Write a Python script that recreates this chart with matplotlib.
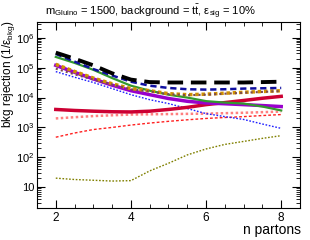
import matplotlib
matplotlib.use("Agg")
import matplotlib.pyplot as plt
from matplotlib.ticker import FixedLocator, MultipleLocator, LogLocator, NullFormatter, FixedFormatter

plt.rcParams['font.family'] = ['Liberation Sans', 'DejaVu Sans']
plt.rcParams['mathtext.fontset'] = 'custom'
plt.rcParams['mathtext.rm'] = 'Liberation Sans'
plt.rcParams['mathtext.it'] = 'Liberation Sans:italic'
plt.rcParams['mathtext.bf'] = 'Liberation Sans:bold'

n_partons = [2, 2.5, 3, 3.5, 4, 4.5, 5, 5.5, 6, 6.5, 7, 7.5, 8]

black_dashed = [3.2e5, 2.0e5, 1.2e5, 6.5e4, 4.0e4, 3.3e4, 3.2e4, 3.2e4, 3.2e4, 3.2e4, 3.2e4, 3.3e4, 3.4e4]
blue_dashed = [2.9e5, 1.6e5, 9.0e4, 5.5e4, 3.4e4, 2.5e4, 2.1e4, 1.9e4, 1.85e4, 1.9e4, 2.0e4, 2.05e4, 2.1e4]
green_solid = [2.3e5, 1.45e5, 8.5e4, 4.5e4, 2.5e4, 1.7e4, 1.25e4, 1.0e4, 7.6e3, 6.8e3, 6.3e3, 5.0e3, 3.7e3]
purple_solid = [1.2e5, 7.0e4, 4.2e4, 2.6e4, 1.7e4, 1.25e4, 9.3e3, 7.5e3, 6.6e3, 6.2e3, 5.8e3, 5.4e3, 5.0e3]
orange_dotted = [1.3e5, 7.5e4, 4.5e4, 2.9e4, 2.0e4, 1.7e4, 1.35e4, 1.25e4, 1.3e4, 1.4e4, 1.5e4, 1.6e4, 1.7e4]
brown_dotted = [9.3e4, 6.0e4, 4.0e4, 2.7e4, 1.9e4, 1.6e4, 1.3e4, 1.2e4, 1.25e4, 1.35e4, 1.45e4, 1.55e4, 1.65e4]
blue_dotted = [7.4e4, 4.8e4, 3.2e4, 2.0e4, 1.25e4, 8.5e3, 6.3e3, 4.3e3, 2.9e3, 2.3e3, 1.85e3, 1.3e3, 9.3e2]
red_solid = [4.0e3, 3.7e3, 3.5e3, 3.35e3, 3.3e3, 3.5e3, 4.0e3, 4.7e3, 5.8e3, 6.8e3, 8.0e3, 9.5e3, 1.1e4]
pink_dotted = [2.0e3, 2.2e3, 2.4e3, 2.55e3, 2.7e3, 2.75e3, 2.8e3, 2.85e3, 2.9e3, 3.0e3, 3.1e3, 3.25e3, 3.4e3]
red_dashed = [4.7e2, 6.5e2, 8.5e2, 1.0e3, 1.2e3, 1.4e3, 1.6e3, 1.8e3, 2.0e3, 2.15e3, 2.3e3, 2.5e3, 2.7e3]
olive_dotted = [20, 18, 17, 16, 16.5, 35, 63, 120, 190, 270, 340, 430, 530]

fig = plt.figure(figsize=(3.1, 2.4), dpi=100)
ax = fig.add_axes([37/310, 1-208/240, 263/310, 186/240])

ax.plot(n_partons, olive_dotted, color="#808000", ls=(0, (1.2, 1.2)), lw=1.0)
ax.plot(n_partons, red_dashed, color="#ff2020", ls=(0, (2, 1.5)), lw=1.0)
ax.plot(n_partons, pink_dotted, color="#ff8080", ls=(0, (1, 1)), lw=1.8)
ax.plot(n_partons, blue_dotted, color="#2020ff", ls=(0, (1.2, 1.2)), lw=1.0)
ax.plot(n_partons, red_solid, color="#cc0033", ls="-", lw=2.5)
ax.plot(n_partons, purple_solid, color="#9900cc", ls="-", lw=2.5)
ax.plot(n_partons, green_solid, color="#33992e", ls="-", lw=1.6)
ax.plot(n_partons, orange_dotted, color="#d09000", ls=(0, (1, 0.8)), lw=2.5)
ax.plot(n_partons, brown_dotted, color="#7a4a50", ls=(0, (1, 1.5)), lw=1.5)
ax.plot(n_partons, blue_dashed, color="#1010a0", ls=(0, (2.5, 1.5)), lw=1.8)
ax.plot(n_partons, black_dashed, color="black", ls=(0, (4, 2)), lw=2.8)

ax.set_yscale("log")
ax.set_xlim(1.5, 8.5)
ax.set_ylim(2, 3.4e6)

ax.xaxis.set_major_locator(FixedLocator([2, 4, 6, 8]))
ax.xaxis.set_minor_locator(MultipleLocator(0.5))
ax.yaxis.set_major_locator(FixedLocator([10, 1e2, 1e3, 1e4, 1e5, 1e6]))
ax.yaxis.set_major_formatter(FixedFormatter(["10", r"$10^{2}$", r"$10^{3}$", r"$10^{4}$", r"$10^{5}$", r"$10^{6}$"]))
ax.yaxis.set_minor_locator(LogLocator(base=10, subs=range(2, 10), numticks=20))
ax.yaxis.set_minor_formatter(NullFormatter())

ax.tick_params(which="both", direction="in", top=True, right=True, labelsize=8.5)
ax.tick_params(axis="y", which="major", labelsize=8)
ax.tick_params(which="major", length=6, width=0.8)
ax.tick_params(which="minor", length=3, width=0.6)
ax.tick_params(axis="y", which="major", pad=2)
ax.tick_params(axis="x", which="major", pad=3)

fig.text(301/310, 1-223/240, "n partons", fontsize=10, ha="right", va="top")
fig.text(0, 1-20/240, r"bkg rejection (1/ε$_{\rm bkg}$)", fontsize=8.5,
         rotation=90, ha="left", va="top")
fig.text(45/310, 1-12/240, r"m$_{\rm Gluino}$ = 1500, background = t$\bar{\rm t}$, ε$_{\rm sig}$ = 10%",
         fontsize=8, va="center", ha="left")

fig.savefig("out.png", dpi=100)
